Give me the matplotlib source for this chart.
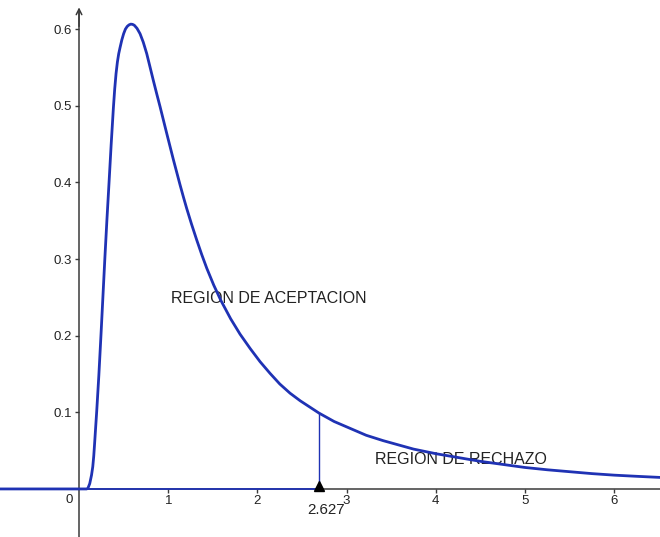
import matplotlib.pyplot as plt

plt.rcParams['font.family'] = ['Liberation Sans', 'DejaVu Sans']

# puntos
curve_x = [-0.88, 0.0, 0.085, 0.10, 0.12, 0.14, 0.154, 0.165, 0.175, 0.185, 0.198,
           0.222, 0.247, 0.27, 0.29, 0.313, 0.336, 0.36, 0.385, 0.40, 0.415, 0.43, 0.445,
           0.46, 0.48, 0.50, 0.52, 0.54, 0.56, 0.58, 0.60, 0.62, 0.65, 0.684, 0.72, 0.759,
           0.795, 0.833, 0.87, 0.908, 0.983, 1.057, 1.132, 1.17, 1.207, 1.26, 1.319, 1.375,
           1.432, 1.51, 1.59, 1.70, 1.805, 1.92, 2.03, 2.14, 2.25, 2.365, 2.48, 2.69, 2.86,
           3.04, 3.22, 3.41, 3.75, 4.0, 4.25, 4.5, 4.75, 5.0, 5.25, 5.5, 5.75, 6.0, 6.25, 6.52]
curve_y = [0.0, 0.0, 0.0, 0.001, 0.007, 0.018, 0.029, 0.043, 0.060, 0.078, 0.101,
           0.148, 0.203, 0.256, 0.302, 0.352, 0.399, 0.449, 0.497, 0.522, 0.542, 0.557, 0.568,
           0.576, 0.586, 0.594, 0.600, 0.6035, 0.6055, 0.6065, 0.6062, 0.605, 0.601, 0.594,
           0.583, 0.568, 0.551, 0.533, 0.516, 0.499, 0.464, 0.430, 0.397, 0.381, 0.366, 0.346,
           0.325, 0.306, 0.288, 0.266, 0.246, 0.222, 0.202, 0.183, 0.166, 0.151, 0.137, 0.125,
           0.115, 0.099, 0.088, 0.079, 0.070, 0.063, 0.052, 0.046, 0.041, 0.036, 0.032,
           0.028, 0.025, 0.0225, 0.020, 0.018, 0.0165, 0.015]

crit_x = 2.69
crit_y = 0.099
crit_label = "2.627"

x_ticks = [1, 2, 3, 4, 5, 6]
y_ticks = [0.1, 0.2, 0.3, 0.4, 0.5, 0.6]

blue = '#1f32b4'
axis_col = '#3a3a3a'

fig = plt.figure(figsize=(6.6, 5.37), dpi=100)
ax = fig.add_axes([0, 0, 1, 1])
ax.set_xlim(-0.886, 6.513)
ax.set_ylim(-0.0627, 0.638)

for s in ['top', 'right']:
    ax.spines[s].set_visible(False)
ax.spines['left'].set_position(('data', 0))
ax.spines['bottom'].set_position(('data', 0))
ax.spines['left'].set_bounds(-0.0627, 0.625)
for s in ['left', 'bottom']:
    ax.spines[s].set_color(axis_col)
    ax.spines[s].set_linewidth(1.1)

ax.set_xticks(x_ticks)
ax.set_yticks(y_ticks)
ax.set_xticklabels([str(t) for t in x_ticks])
ax.set_yticklabels([str(t) for t in y_ticks])
ax.tick_params(axis='x', direction='out', length=3, width=1, color=axis_col, pad=1,
               labelsize=9.5, labelcolor='#222222')
ax.tick_params(axis='y', direction='out', length=3, width=1, color=axis_col, pad=2,
               labelsize=9.5, labelcolor='#222222')
ax.text(-0.07, -0.007, "0", ha='right', va='top', fontsize=9.5, color='#222222')

# flecha del eje y
ax.annotate("", xy=(0, 0.632), xytext=(0, 0.60),
            arrowprops=dict(arrowstyle='->', color=axis_col, lw=1.1, mutation_scale=10))

# region de aceptacion: borde inferior y linea vertical
ax.plot([-0.886, crit_x], [0, 0], color=blue, lw=1.3, zorder=3)
ax.plot([crit_x, crit_x], [0, crit_y], color=blue, lw=1.0, zorder=3)

ax.plot(curve_x, curve_y, color=blue, lw=2.0, solid_joinstyle='round', zorder=4)

ax.plot([crit_x], [0.004], marker='^', color='black', markersize=7, zorder=5)
ax.text(2.56, -0.027, crit_label, ha='left', va='center', fontsize=10.9, color='#222222')

ax.text(1.03, 0.248, "REGION DE ACEPTACION", ha='left', va='center', fontsize=11.5, color='#222222')
ax.text(3.32, 0.038, "REGION DE RECHAZO", ha='left', va='center', fontsize=11.5, color='#222222')

fig.savefig('out.png', dpi=100)
